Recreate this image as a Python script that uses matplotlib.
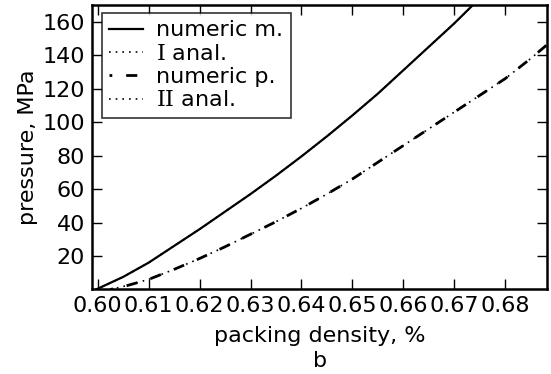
import matplotlib
matplotlib.use('Agg')
import matplotlib.pyplot as plt

# packing density vs pressure
density_m = [0.5997, 0.605, 0.61, 0.615, 0.62, 0.625, 0.63, 0.635, 0.64, 0.645,
             0.65, 0.655, 0.66, 0.665, 0.67, 0.674]
pressure_m = [0.0, 7.5, 16.0, 26.0, 36.0, 46.5, 57.0, 68.0, 79.5, 91.5,
              104.0, 117.0, 131.0, 145.0, 159.0, 171.0]
density_a1 = [0.5997, 0.605, 0.61, 0.615, 0.62, 0.625, 0.63, 0.635, 0.64, 0.645,
              0.65, 0.655, 0.66, 0.665, 0.67, 0.674]
pressure_a1 = [0.0, 7.5, 16.0, 26.0, 36.0, 46.5, 57.0, 68.0, 79.5, 91.5,
               104.0, 117.0, 131.0, 145.0, 159.0, 171.0]

density_p = [0.6025, 0.606, 0.61, 0.615, 0.62, 0.625, 0.63, 0.635, 0.64, 0.645,
             0.65, 0.655, 0.66, 0.665, 0.67, 0.675, 0.68, 0.685, 0.6885]
pressure_p = [0.0, 2.5, 6.0, 12.0, 18.5, 25.5, 33.0, 40.5, 48.5, 57.0,
              66.0, 76.0, 86.0, 96.0, 106.0, 116.0, 126.0, 138.0, 147.0]
density_a2 = [0.6025, 0.606, 0.61, 0.615, 0.62, 0.625, 0.63, 0.635, 0.64, 0.645,
              0.65, 0.655, 0.66, 0.665, 0.67, 0.675, 0.68, 0.685, 0.6885]
pressure_a2 = [0.0, 2.5, 6.0, 12.0, 18.5, 25.5, 33.0, 40.5, 48.5, 57.0,
               66.0, 76.0, 86.0, 96.0, 106.0, 116.0, 126.0, 138.0, 147.0]

xticks = [0.60, 0.61, 0.62, 0.63, 0.64, 0.65, 0.66, 0.67, 0.68]
yticks = [20, 40, 60, 80, 100, 120, 140, 160]

plt.rcParams['mathtext.fontset'] = 'dejavuserif'
fs = 16

fig = plt.figure(figsize=(5.51, 3.74), dpi=100)
ax = fig.add_axes([0.167, 0.226, 0.826, 0.761])

ax.plot(density_m, pressure_m, color='black', lw=1.6, label='numeric m.')
ax.plot(density_a1, pressure_a1, color='black', lw=1.2, linestyle=(0, (1, 3)), label=r'$\mathrm{I}$ anal.')
ax.plot(density_p, pressure_p, color='black', lw=2.0, linestyle=(3, (4, 5)), label='numeric p.')
ax.plot(density_a2, pressure_a2, color='black', lw=1.2, linestyle=(0, (1, 3)), label=r'$\mathrm{II}$ anal.')

ax.set_xlim(0.5989, 0.6882)
ax.set_ylim(0, 170)
ax.set_xticks(xticks)
ax.set_xticklabels(['%.2f' % t for t in xticks])
ax.set_yticks(yticks)
ax.tick_params(direction='in', length=7, width=1, top=True, right=True,
               labelsize=16, pad=5)
for s in ax.spines.values():
    s.set_linewidth(1.8)

ax.set_xlabel('packing density, %\nb', fontsize=fs, labelpad=7, linespacing=1.3)
ax.set_ylabel('pressure, MPa', fontsize=fs, labelpad=3)

leg = ax.legend(loc='upper left', bbox_to_anchor=(0.021, 0.973), borderaxespad=0,
                fontsize=fs, fancybox=False, frameon=True, handlelength=1.5,
                handletextpad=0.6, labelspacing=0.15, borderpad=0.35)
leg.get_frame().set_edgecolor('black')
leg.get_frame().set_linewidth(1.2)

fig.savefig('out.png', dpi=100)
